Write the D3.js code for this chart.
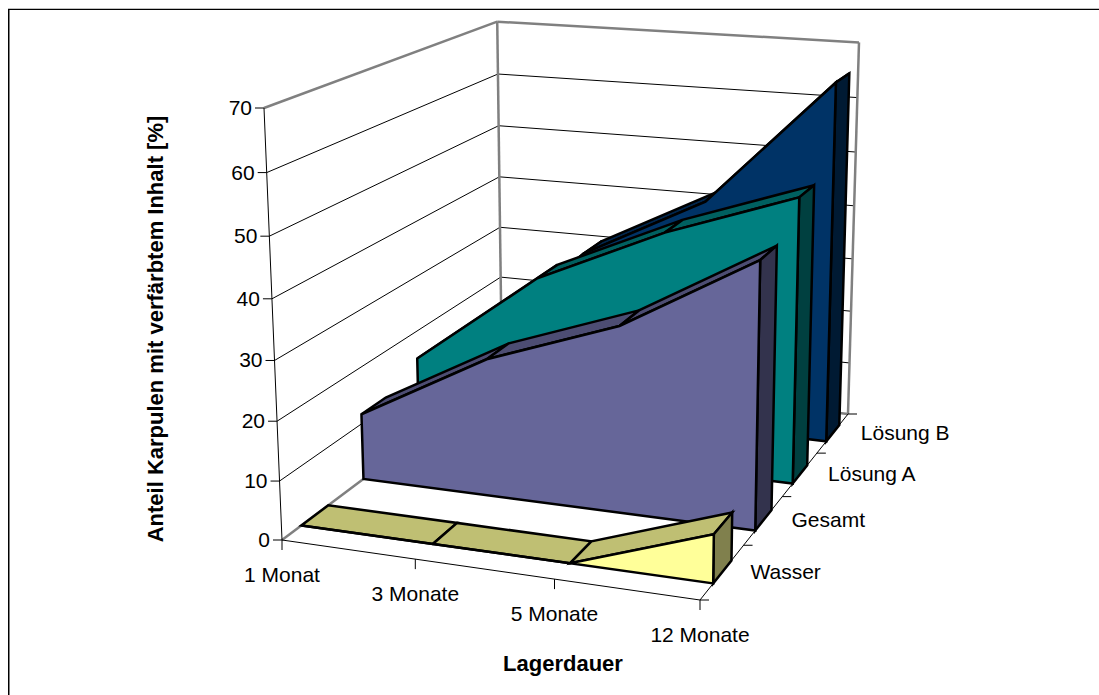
<!DOCTYPE html>
<html>
<head>
<meta charset="utf-8">
<script src="https://cdn.jsdelivr.net/npm/d3@7/dist/d3.min.js"></script>
<style>
  html, body { margin: 0; padding: 0; background: #fff; }
  svg { display: block; }
  text { font-family: "Liberation Sans", Arial, sans-serif; fill: #000; }
</style>
</head>
<body>
<svg id="chart" width="1099" height="695"></svg>
<script>
// data
var categories = ["1 Monat", "3 Monate", "5 Monate", "12 Monate"];
var seriesNames = ["Wasser", "Gesamt", "Lösung A", "Lösung B"];
var wasser = [0, 0, 0, 8];
var gesamt = [11.7, 24, 32.1, 45.2];
var loesungA = [14.9, 32, 42.2, 50.2];
var loesungB = [10, 30.8, 42.5, 65.5];
var valueTicks = [0, 10, 20, 30, 40, 50, 60, 70];
var seriesValues = [wasser, gesamt, loesungA, loesungB];

var seriesColors = [
  {front: "#ffff99", top: "#bfbf73", side: "#80804d"},
  {front: "#666699", top: "#4d4d73", side: "#33334d"},
  {front: "#008080", top: "#006060", side: "#004040"},
  {front: "#003366", top: "#00264d", side: "#001a33"}
];

var svg = d3.select("#chart");

// the box, read as corners on screen: floor, then the top of the walls
var floorFL = [282, 540], floorFR = [700, 600], floorBR = [848, 414], floorBL = [502, 375];
var topFL = [264, 108], topBR = [859, 41];

// unit square to floor quad (homography)
function squareToQuad(p0, p1, p2, p3) {
  var dx1 = p1[0] - p2[0], dx2 = p3[0] - p2[0], sx = p0[0] - p1[0] + p2[0] - p3[0],
      dy1 = p1[1] - p2[1], dy2 = p3[1] - p2[1], sy = p0[1] - p1[1] + p2[1] - p3[1],
      det = dx1 * dy2 - dx2 * dy1,
      g = (sx * dy2 - dx2 * sy) / det,
      h = (dx1 * sy - sx * dy1) / det;
  return {
    a: p1[0] - p0[0] + g * p1[0], b: p3[0] - p0[0] + h * p3[0], c: p0[0],
    d: p1[1] - p0[1] + g * p1[1], e: p3[1] - p0[1] + h * p3[1], f: p0[1],
    g: g, h: h
  };
}

var H = squareToQuad(floorFL, floorFR, floorBR, floorBL);
// how the height axis goes into the projection, fixed by two top corners
var D = H.g + H.h + 1;
var wz = -((topBR[0] - floorBR[0]) * D + (floorFL[0] - topFL[0])) / (topBR[0] - topFL[0]);
var wx = topFL[0] * (1 + wz) - floorFL[0];
var wy = topFL[1] * (1 + wz) - floorFL[1];

function project(u, v, w) {
  var den = H.g * u + H.h * v + 1 + wz * w;
  return [
    (H.a * u + H.b * v + H.c + wx * w) / den,
    (H.d * u + H.e * v + H.f + wy * w) / den
  ];
}

var uScale = d3.scalePoint().domain(categories).range([0, 1]);
var vScale = d3.scaleBand().domain(seriesNames).range([0, 1]).paddingInner(0.58).paddingOuter(0.29);
var wScale = d3.scaleLinear().domain([0, 70]).range([0, 1]);

var line3d = d3.line();
function seg(g, a, b, color, width) {
  g.append("path").attr("d", line3d([a, b])).attr("fill", "none")
    .attr("stroke", color).attr("stroke-width", width);
}
function poly(g, pts, fill) {
  g.append("path").attr("d", line3d(pts) + "Z").attr("fill", fill)
    .attr("stroke", "#000").attr("stroke-width", 2.5).attr("stroke-linejoin", "miter");
}

// outer frame, only top and left are in the picture
var frame = svg.append("g");
seg(frame, [8, 8.5], [1099, 8.5], "#c0c0c0", 1);
seg(frame, [9.5, 9], [9.5, 695], "#808080", 1);
seg(frame, [8, 9.5], [1099, 9.5], "#000", 1);
seg(frame, [8.5, 9], [8.5, 695], "#000", 1);

// walls
var walls = svg.append("g");
valueTicks.forEach(function (t) {
  var w = wScale(t);
  if (t === 70) return;
  seg(walls, project(0, 0, w), project(0, 1, w), "#000", 1);
  seg(walls, project(0, 1, w), project(1, 1, w), "#000", 1);
});
seg(walls, project(0, 0, 0), project(0, 1, 0), "#808080", 2.5);
seg(walls, project(0, 1, 0), project(1, 1, 0), "#808080", 2.5);
seg(walls, project(0, 0, 1), project(0, 1, 1), "#808080", 2.5);
seg(walls, project(0, 1, 1), project(1, 1, 1), "#808080", 2.5);
seg(walls, project(0, 1, 0), project(0, 1, 1), "#808080", 2.5);
seg(walls, project(1, 1, 0), project(1, 1, 1), "#808080", 2.5);

// axes
var axes = svg.append("g");
seg(axes, project(0, 0, 0), project(0, 0, 1), "#000", 1);
seg(axes, project(0, 0, 0), project(1, 0, 0), "#000", 1);
seg(axes, project(1, 0, 0), project(1, 1, 0), "#000", 1);

valueTicks.forEach(function (t) {
  var p = project(0, 0, wScale(t));
  seg(axes, [p[0] - 9, p[1]], p, "#000", 1);
  axes.append("text").attr("x", p[0] - 12).attr("y", p[1] + 7)
    .attr("text-anchor", "end").attr("font-size", 21).text(t);
});

categories.forEach(function (c) {
  var p = project(uScale(c), 0, 0);
  seg(axes, p, [p[0], p[1] + 10], "#000", 1);
  axes.append("text").attr("x", p[0]).attr("y", p[1] + 42)
    .attr("text-anchor", "middle").attr("font-size", 21).text(c);
});

var step = vScale.step();
d3.range(0, seriesNames.length + 1).forEach(function (i) {
  var p = project(1, i * step, 0);
  seg(axes, p, [p[0] + 9, p[1]], "#000", 1);
});
seriesNames.forEach(function (s, i) {
  var p = project(1, (i + 0.5) * step, 0);
  axes.append("text").attr("x", p[0] + 28).attr("y", p[1] + 7)
    .attr("font-size", 21).text(s);
});

// series, back to front
var marks = svg.append("g");
d3.range(seriesNames.length - 1, -1, -1).forEach(function (i) {
  var name = seriesNames[i], vals = seriesValues[i], col = seriesColors[i];
  var v0 = vScale(name), v1 = v0 + vScale.bandwidth();
  var lastVal = vals[vals.length - 1];

  // top strips
  categories.slice(0, -1).forEach(function (c, k) {
    var next = categories[k + 1];
    poly(marks, [
      project(uScale(c), v0, wScale(vals[k])),
      project(uScale(c), v1, wScale(vals[k])),
      project(uScale(next), v1, wScale(vals[k + 1])),
      project(uScale(next), v0, wScale(vals[k + 1]))
    ], col.top);
  });
  // right end
  poly(marks, [
    project(1, v0, 0), project(1, v1, 0),
    project(1, v1, wScale(lastVal)), project(1, v0, wScale(lastVal))
  ], col.side);
  // front
  var pts = [project(0, v0, 0)];
  categories.forEach(function (c, k) { pts.push(project(uScale(c), v0, wScale(vals[k]))); });
  pts.push(project(1, v0, 0));
  poly(marks, pts, col.front);
});

// axis titles
svg.append("text").attr("x", 563).attr("y", 671).attr("text-anchor", "middle")
  .attr("font-size", 22).attr("font-weight", "bold").text("Lagerdauer");
svg.append("text").attr("transform", "translate(163,329) rotate(-90)").attr("text-anchor", "middle")
  .attr("font-size", 22).attr("font-weight", "bold").text("Anteil Karpulen mit verfärbtem Inhalt [%]");
</script>
</body>
</html>
